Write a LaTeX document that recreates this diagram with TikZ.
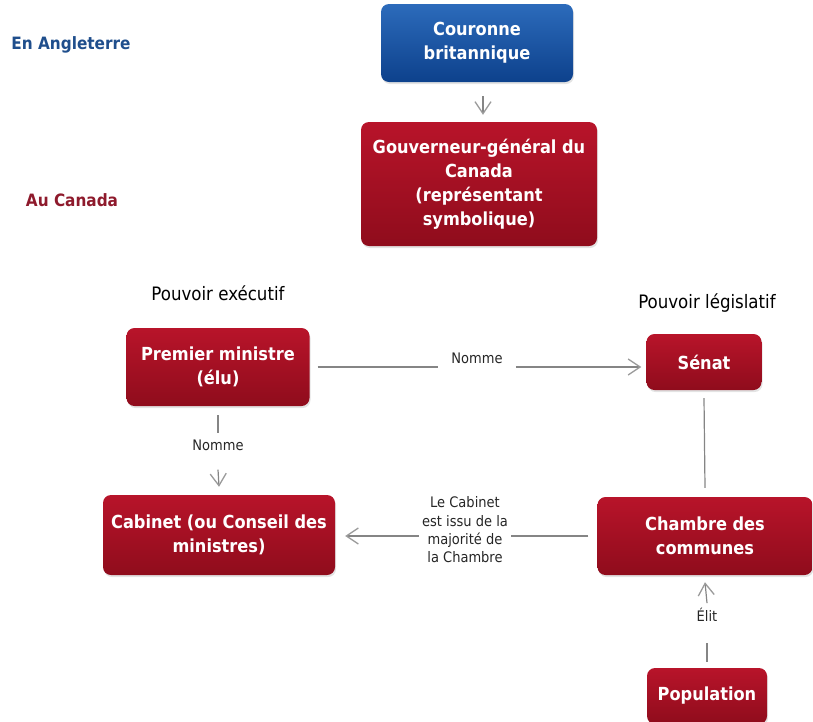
\documentclass[tikz,border=0pt]{standalone}
\usepackage{fontspec}
\setmainfont{DejaVu Sans Condensed}
\usetikzlibrary{arrows.meta,shadows}

\definecolor{redtop}{HTML}{B8142A}
\definecolor{redmid}{HTML}{C61D31}
\definecolor{redbot}{HTML}{8F0C1C}
\definecolor{bluetop}{HTML}{2C6BBB}
\definecolor{bluemid}{HTML}{1F5AAA}
\definecolor{bluebot}{HTML}{0D418C}
\definecolor{linkgray}{HTML}{858585}
\definecolor{tipgray}{HTML}{9A9A9A}
\definecolor{headblue}{HTML}{1F4E8C}
\definecolor{headred}{HTML}{8E1A2C}
\definecolor{labtext}{HTML}{262626}

\tikzset{
  x=1pt, y=-1pt,
  box/.style={rounded corners=8pt, align=center, text=white,
    font=\bfseries\fontsize{18}{24}\selectfont, inner sep=4pt,
    top color=redtop, middle color=redmid, bottom color=redbot,
    drop shadow={opacity=0.22, shadow xshift=1pt, shadow yshift=-2pt}},
  bluebox/.style={box, top color=bluetop, middle color=bluemid, bottom color=bluebot},
  link/.style={draw=linkgray, line width=1.2pt},
  arr/.style={link, -{Straight Barb[length=12pt,width=16pt,line width=1.3pt,color=tipgray]}},
  lab/.style={text=labtext, font=\fontsize{14.5}{18.3}\selectfont, align=center, inner sep=3pt},
  sidehead/.style={font=\bfseries\fontsize{17}{20}\selectfont},
  powerhead/.style={font=\fontsize{18.5}{22}\selectfont, text=black}
}

\begin{document}
\begin{tikzpicture}
  \useasboundingbox (0,0) rectangle (813,721);
  \clip (0,0) rectangle (813,721);

  % section headings
  \node[sidehead, text=headblue] (ang) at (71,45) {En Angleterre};
  \node[sidehead, text=headred] (can) at (72,200) {Au Canada};
  \node[powerhead] (exe) at (218,293) {Pouvoir exécutif};
  \node[powerhead] (leg) at (707,303) {Pouvoir législatif};

  % boxes
  \node[bluebox, minimum width=192pt, minimum height=78pt] (cour) at (477,43) {Couronne\\britannique};
  \node[box, minimum width=236pt, minimum height=124pt] (gouv) at (479,184) {Gouverneur-général du\\Canada\\(représentant\\symbolique)};
  \node[box, minimum width=183pt, minimum height=78pt] (prem) at (218,367) {Premier ministre\\(élu)};
  \node[box, minimum width=115pt, minimum height=56pt] (sen) at (704,362) {Sénat};
  \node[box, minimum width=232pt, minimum height=80pt] (cab) at (219,535) {Cabinet (ou Conseil des\\ministres)};
  \node[box, minimum width=215pt, minimum height=78pt] (cham) at (705,536) {Chambre des\\communes};
  \node[box, minimum width=120pt, minimum height=56pt] (pop) at (707,696) {Population};

  % connector labels
  \node[lab] (n1) at (477,358) {Nomme};
  \node[lab] (n2) at (218,445) {Nomme};
  \node[lab] (n3) at (465,530) {Le Cabinet\\est issu de la\\majorité de\\la Chambre};
  \node[lab] (n4) at (707,615) {Élit};

  % Couronne -> Gouverneur
  \draw[arr] ([xshift=6pt,yshift=-14pt]cour.south) -- ([xshift=4pt,yshift=7pt]gouv.north);

  % Premier ministre -> Sénat
  \draw[link] ([xshift=8pt]prem.east) -- ([xshift=-10pt]n1.west |- prem.east);
  \draw[arr] ([xshift=10pt]n1.east |- prem.east) -- ([xshift=-5pt]sen.west |- prem.east);

  % Premier ministre -> Cabinet
  \draw[link] ([yshift=-9pt]prem.south) -- ([yshift=3pt]n2.north);
  \draw[arr] ([yshift=-16pt]n2.south) -- ([yshift=8pt]cab.north);

  % Sénat -- Chambre des communes
  \draw[link] ([yshift=-8pt]sen.south) -- ([yshift=9pt]cham.north);

  % Chambre des communes -> Cabinet
  \draw[link] ([xshift=-9pt]cham.west) -- (n3.east |- cham.west);
  \draw[arr] (n3.west |- cham.west) -- ([xshift=10pt]cab.east |- cham.west);

  % Population -> Chambre des communes
  \draw[link] ([yshift=6pt]pop.north) -- ([yshift=-18pt]n4.south);
  \draw[arr] ([yshift=2pt]n4.north) -- ([yshift=-7pt]cham.south);
\end{tikzpicture}
\end{document}
